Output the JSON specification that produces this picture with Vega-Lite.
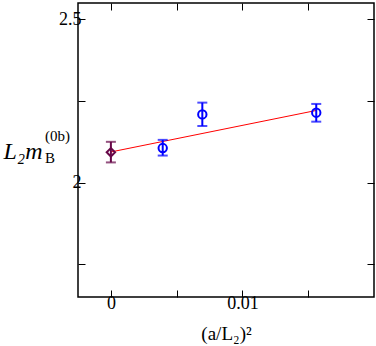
{
  "$schema": "https://vega.github.io/schema/vega-lite/v6.json",
  "width": 296,
  "height": 294,
  "autosize": {"type": "none"},
  "padding": {"left": 78, "top": 3, "right": 2, "bottom": 49},
  "background": "white",
  "config": {
    "view": {"stroke": "black", "strokeWidth": 1.5},
    "font": "Liberation Serif",
    "axis": {"grid": false, "domain": false, "labelFont": "Liberation Serif", "titleFont": "Liberation Serif", "tickColor": "black", "labelColor": "black", "titleColor": "black", "titleFontWeight": "normal", "tickWidth": 1, "labelFontSize": 18, "titleFontSize": 19}
  },
  "datasets": {
    "pts": [
      {"x": 0, "y": 2.093, "lo": 2.062, "hi": 2.125, "series": "extrapolated"},
      {"x": 0.00394, "y": 2.106, "lo": 2.083, "hi": 2.131, "series": "data"},
      {"x": 0.00695, "y": 2.209, "lo": 2.1735, "hi": 2.245, "series": "data"},
      {"x": 0.01561, "y": 2.2142, "lo": 2.1867, "hi": 2.241, "series": "data"}
    ],
    "fit": [
      {"x": 0, "y": 2.094},
      {"x": 0.0156, "y": 2.221}
    ],
    "labels": [
      {"t": "B", "part": "sub"},
      {"t": "(0b)", "part": "sup"}
    ]
  },
  "resolve": {"axis": {"x": "independent", "y": "independent"}},
  "layer": [
    {
      "mark": {"type": "rule", "color": "black", "strokeDash": [1, 2], "strokeWidth": 1},
      "encoding": {
        "x": {"datum": 0, "type": "quantitative", "axis": null}
      }
    },
    {
      "data": {"name": "fit"},
      "mark": {"type": "line", "color": "#ff0000", "strokeWidth": 1},
      "encoding": {
        "x": {"field": "x", "type": "quantitative", "scale": {"domain": [-0.0025, 0.02], "nice": false, "zero": false},
          "axis": {"orient": "top", "values": [0, 0.005, 0.01, 0.015], "labels": false, "title": null, "tickSize": -7}},
        "y": {"field": "y", "type": "quantitative", "scale": {"domain": [1.65, 2.55], "nice": false, "zero": false},
          "axis": {"orient": "right", "values": [1.75, 2, 2.25, 2.5], "labels": false, "title": null, "tickSize": -7}}
      }
    },
    {
      "data": {"name": "pts"},
      "mark": {"type": "rule", "strokeWidth": 2},
      "encoding": {
        "x": {"field": "x", "type": "quantitative",
          "axis": {"orient": "bottom", "values": [0, 0.005, 0.01, 0.015], "tickSize": -7, "labelPadding": 4, "labelFontSize": 18,
            "labelExpr": "datum.value == 0 ? '0' : (abs(datum.value - 0.01) < 0.0001 ? '0.01' : '')",
            "title": "(a/L₂)²", "titleFontSize": 19, "titleY": 42, "titleBaseline": "alphabetic"}},
        "y": {"field": "lo", "type": "quantitative",
          "axis": {"orient": "left", "values": [1.75, 2, 2.25, 2.5], "tickSize": -7, "labelPadding": 4, "labelFontSize": 18,
            "labelExpr": "abs(datum.value - 2) < 0.001 ? '2' : (abs(datum.value - 2.5) < 0.001 ? '2.5' : '')",
            "title": "L₂m", "titleFontSize": 24, "titleFontStyle": "italic", "titleAngle": 0, "titleAlign": "left", "titleBaseline": "alphabetic", "titleX": -75, "titleY": 155}},
        "y2": {"field": "hi"},
        "color": {"field": "series", "type": "nominal", "scale": {"domain": ["extrapolated", "data"], "range": ["#670748", "#0000ff"]}, "legend": null}
      }
    },
    {
      "data": {"name": "pts"},
      "mark": {"type": "tick", "orient": "horizontal", "size": 10, "thickness": 2},
      "encoding": {
        "x": {"field": "x", "type": "quantitative", "axis": null},
        "y": {"field": "lo", "type": "quantitative", "axis": null},
        "color": {"field": "series", "type": "nominal", "legend": null}
      }
    },
    {
      "data": {"name": "pts"},
      "mark": {"type": "tick", "orient": "horizontal", "size": 10, "thickness": 2},
      "encoding": {
        "x": {"field": "x", "type": "quantitative", "axis": null},
        "y": {"field": "hi", "type": "quantitative", "axis": null},
        "color": {"field": "series", "type": "nominal", "legend": null}
      }
    },
    {
      "data": {"name": "pts"},
      "mark": {"type": "point", "filled": false, "strokeWidth": 2, "size": 70, "opacity": 1},
      "encoding": {
        "x": {"field": "x", "type": "quantitative", "axis": null},
        "y": {"field": "y", "type": "quantitative", "axis": null},
        "color": {"field": "series", "type": "nominal", "legend": null},
        "shape": {"field": "series", "type": "nominal", "scale": {"domain": ["extrapolated", "data"], "range": ["diamond", "circle"]}, "legend": null}
      }
    },
    {
      "data": {"name": "labels"},
      "transform": [{"filter": "datum.part == 'sub'"}],
      "mark": {"type": "text", "font": "Liberation Serif", "fontSize": 15, "align": "left", "baseline": "alphabetic", "color": "black", "clip": false},
      "encoding": {
        "text": {"field": "t"},
        "x": {"datum": -0.00501, "type": "quantitative", "axis": null},
        "y": {"datum": 2.0603, "type": "quantitative", "axis": null}
      }
    },
    {
      "data": {"name": "labels"},
      "transform": [{"filter": "datum.part == 'sup'"}],
      "mark": {"type": "text", "font": "Liberation Serif", "fontSize": 15, "align": "left", "baseline": "alphabetic", "color": "black", "clip": false},
      "encoding": {
        "text": {"field": "t"},
        "x": {"datum": -0.00501, "type": "quantitative", "axis": null},
        "y": {"datum": 2.1276, "type": "quantitative", "axis": null}
      }
    }
  ]
}
